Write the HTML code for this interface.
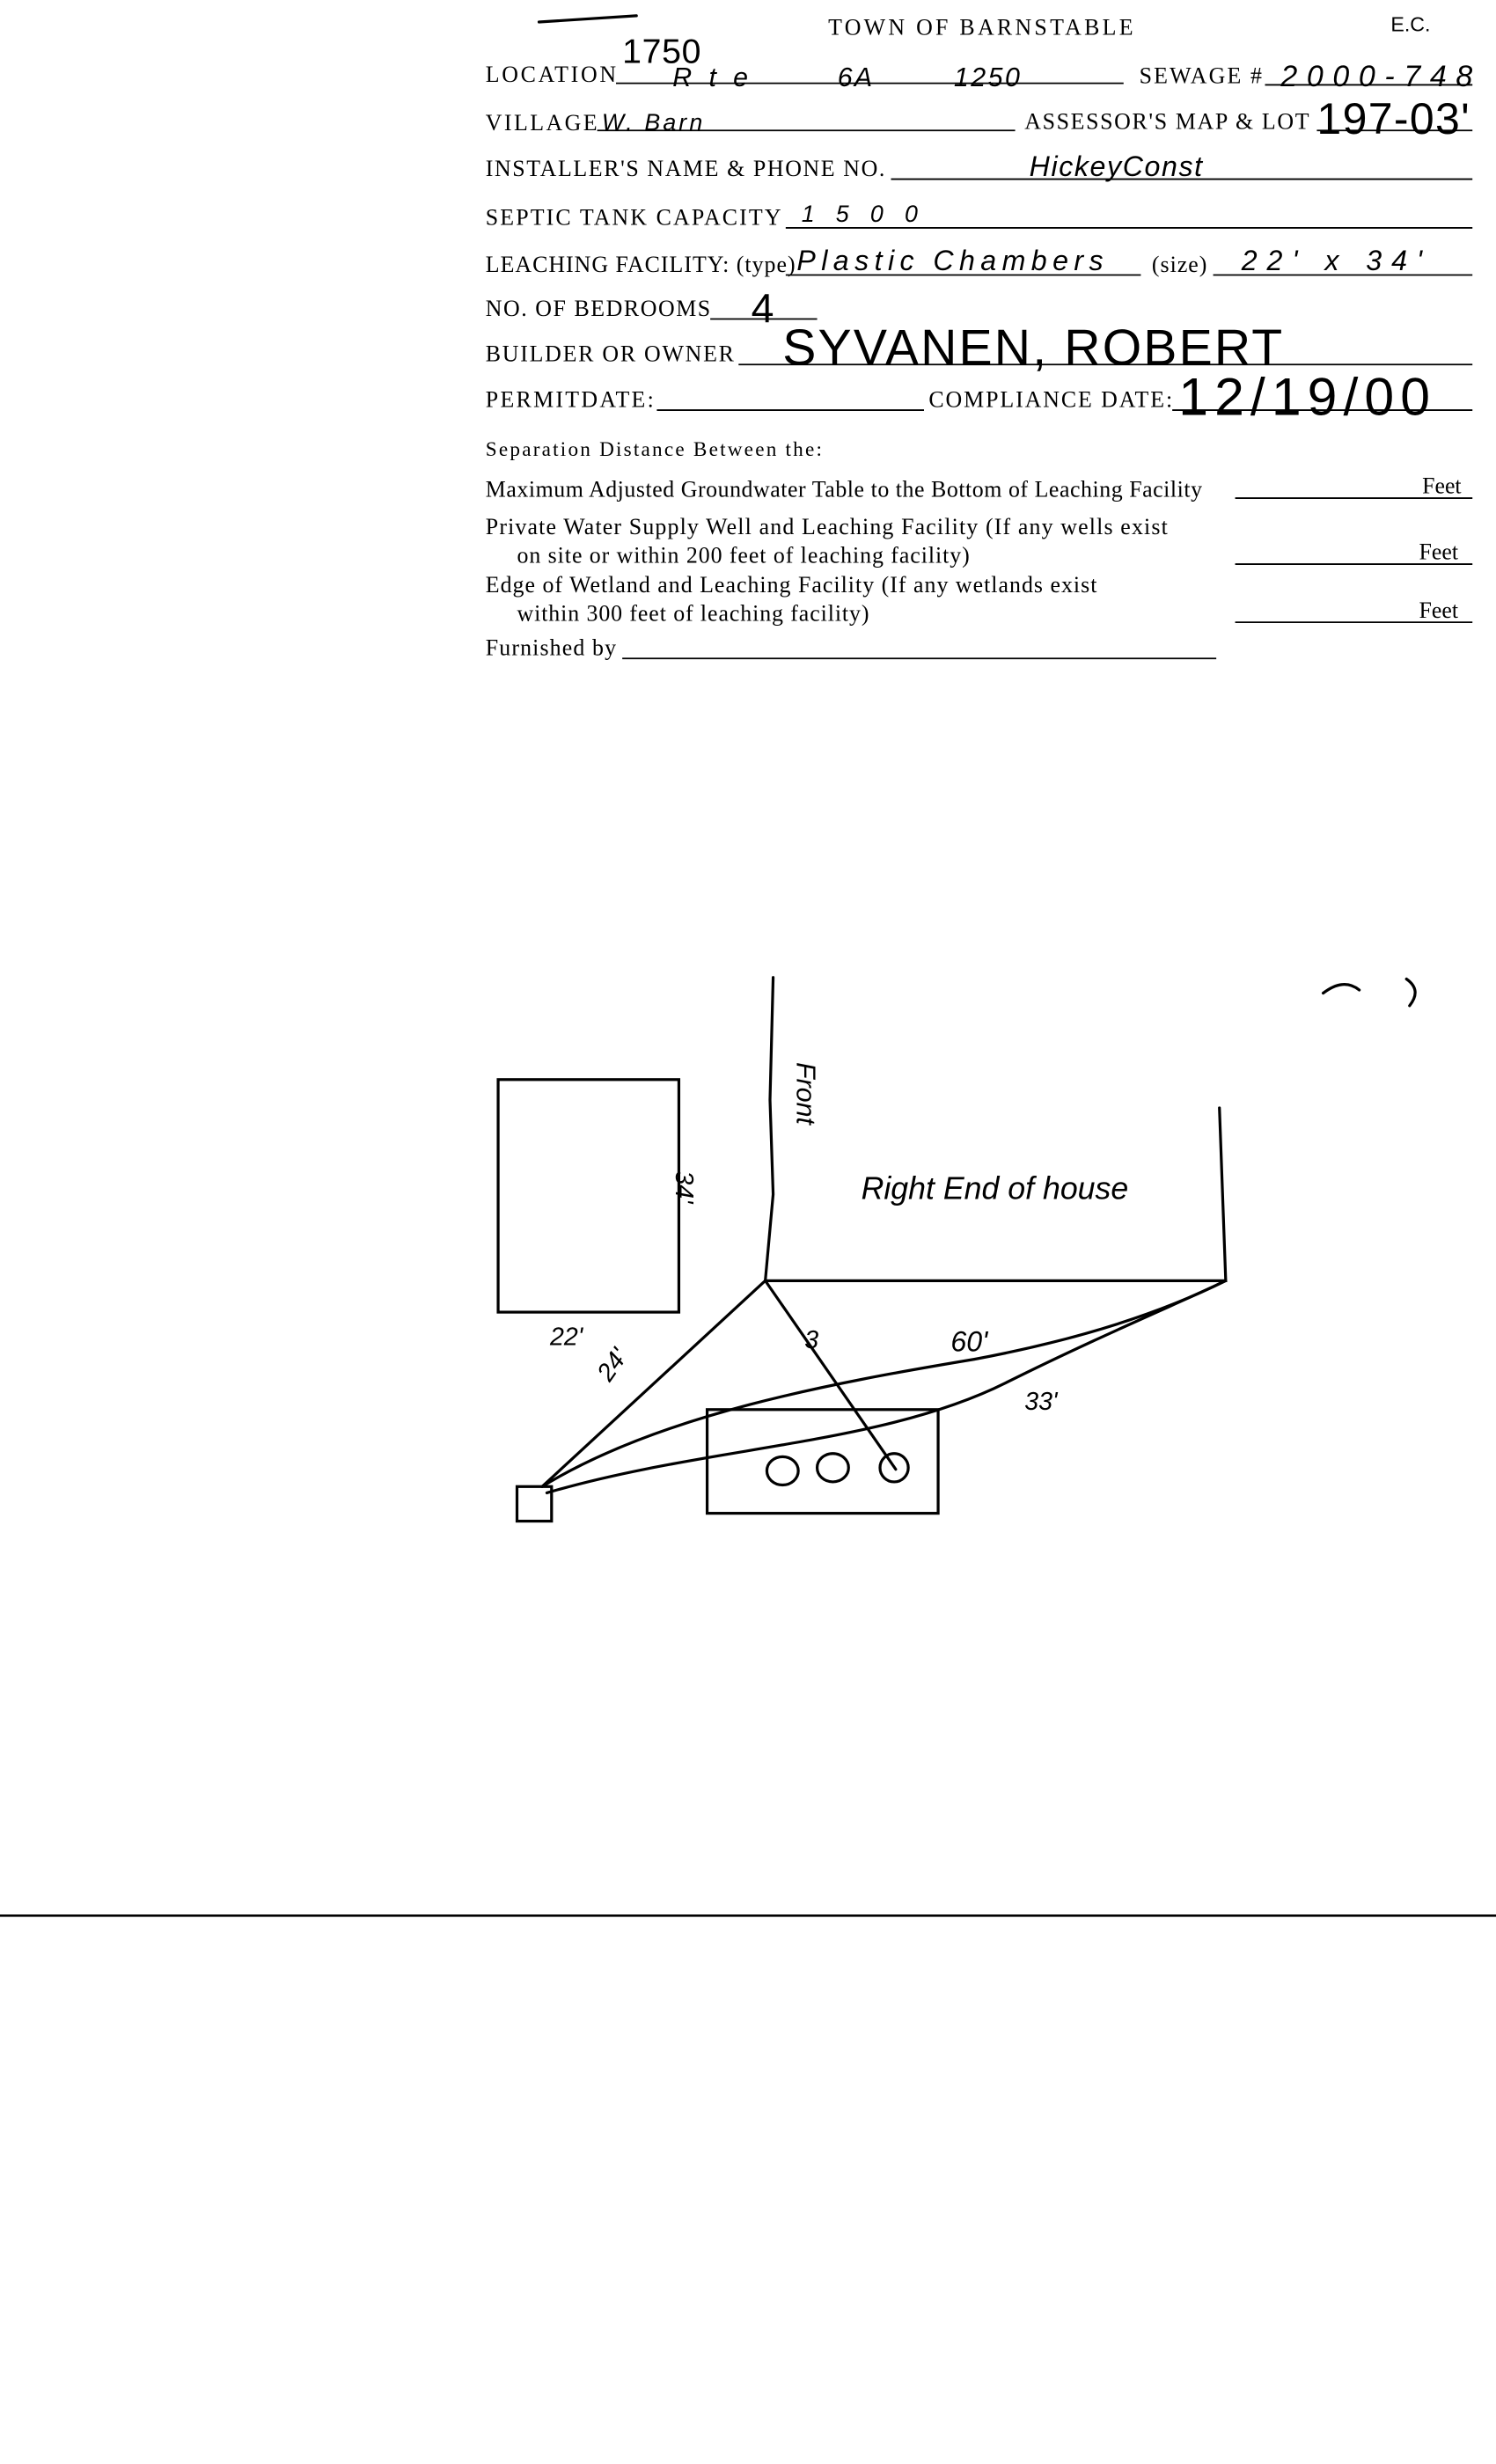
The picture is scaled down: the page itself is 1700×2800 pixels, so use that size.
<!DOCTYPE html>
<html><head><meta charset="utf-8"><style>
html,body{margin:0;padding:0;background:#fff;}
svg{display:block;}
.t{font-family:"Liberation Serif",serif;font-size:14.5px;fill:#000;}
.h{font-family:"Liberation Sans",sans-serif;font-style:italic;fill:#000;}
</style></head><body>
<svg width="1700" height="2800" viewBox="0 0 952 1568" preserveAspectRatio="none" xmlns="http://www.w3.org/2000/svg">
<rect width="952" height="1568" fill="#fff"/>
<g class="t" font-size="13.5" lengthAdjust="spacingAndGlyphs">
<text x="527" y="22" font-size="14.5" textLength="194">TOWN OF BARNSTABLE</text>
<text x="309" y="52" textLength="83">LOCATION</text>
<text x="725" y="53" textLength="78">SEWAGE #</text>
<text x="309" y="83" textLength="71">VILLAGE</text>
<text x="652" y="82" textLength="181">ASSESSOR'S MAP &amp; LOT</text>
<text x="309" y="112" textLength="254">INSTALLER'S NAME &amp; PHONE NO.</text>
<text x="309" y="143" textLength="188">SEPTIC TANK CAPACITY</text>
<text x="309" y="173" textLength="197">LEACHING FACILITY: (type)</text>
<text x="733" y="173" textLength="35">(size)</text>
<text x="309" y="201" textLength="143">NO. OF BEDROOMS</text>
<text x="309" y="230" textLength="158">BUILDER OR OWNER</text>
<text x="309" y="259" textLength="107">PERMITDATE:</text>
<text x="591" y="259" textLength="155">COMPLIANCE DATE:</text>
<text x="309" y="290" font-size="13" textLength="214">Separation Distance Between the:</text>
<text x="309" y="316" textLength="456">Maximum Adjusted Groundwater Table to the Bottom of Leaching Facility</text>
<text x="905" y="314">Feet</text>
<text x="309" y="340" textLength="434">Private Water Supply Well and Leaching Facility  (If any wells exist</text>
<text x="329" y="358" textLength="288">on site or within 200 feet of leaching facility)</text>
<text x="903" y="356">Feet</text>
<text x="309" y="377" textLength="389">Edge of Wetland and Leaching Facility (If any wetlands exist</text>
<text x="329" y="395" textLength="224">within 300 feet of leaching facility)</text>
<text x="903" y="393">Feet</text>
<text x="309" y="417" textLength="83">Furnished by</text>
</g>
<g stroke="#000" stroke-width="1" fill="none">
<line x1="392" y1="53" x2="715" y2="53"/>
<line x1="805" y1="54" x2="937" y2="54"/>
<line x1="380" y1="83" x2="646" y2="83"/>
<line x1="838" y1="83" x2="937" y2="83"/>
<line x1="567" y1="114" x2="937" y2="114"/>
<line x1="500" y1="145" x2="937" y2="145"/>
<line x1="500" y1="175" x2="726" y2="175"/>
<line x1="772" y1="175" x2="937" y2="175"/>
<line x1="452" y1="203" x2="520" y2="203"/>
<line x1="470" y1="232" x2="937" y2="232"/>
<line x1="418" y1="261" x2="588" y2="261"/>
<line x1="746" y1="261" x2="937" y2="261"/>
<line x1="786" y1="317" x2="937" y2="317"/>
<line x1="786" y1="359" x2="937" y2="359"/>
<line x1="786" y1="396" x2="937" y2="396"/>
<line x1="396" y1="419" x2="774" y2="419"/>
<line x1="0" y1="1219" x2="952" y2="1219" stroke-width="1.5"/>
</g>
<g class="h" lengthAdjust="spacingAndGlyphs">
<text x="396" y="40" font-size="22" font-style="normal" textLength="50">1750</text>
<text x="428" y="55" font-size="17" textLength="48">Rte</text>
<text x="533" y="55" font-size="17" textLength="22">6A</text>
<text x="607" y="55" font-size="17" textLength="42">1250</text>
<text x="815" y="55" font-size="19" textLength="122">2000-748</text>
<text x="383" y="83" font-size="15" textLength="64">W. Barn</text>
<text x="838" y="85" font-size="28" font-style="normal" textLength="97">197-03'</text>
<text x="655" y="112" font-size="18" textLength="110">HickeyConst</text>
<text x="510" y="141" font-size="15" textLength="74">1500</text>
<text x="507" y="172" font-size="18" textLength="195">Plastic Chambers</text>
<text x="790" y="172" font-size="18" textLength="115">22' x 34'</text>
<text x="478" y="205" font-size="26" font-style="normal">4</text>
<text x="498" y="232" font-size="32" font-style="normal" textLength="318">SYVANEN, ROBERT</text>
<text x="750" y="264" font-size="34" font-style="normal" textLength="160">12/19/00</text>
<text x="885" y="20" font-size="13" font-style="normal">E.C.</text>
</g>
<g stroke="#000" stroke-width="1.8" fill="none" stroke-linecap="round">
<path d="M343 14 L405 10"/>
<path d="M492 622 L490 700 L492 760 L487 815"/>
<path d="M487 815 L780 815 L776 705"/>
<rect x="317" y="687" width="115" height="148"/>
<path d="M487 815 L345 946"/>
<path d="M487 815 L570 935"/>
<path d="M345 946 C420 900 530 880 620 865 C700 850 750 830 780 815"/>
<path d="M348 950 C450 920 560 920 640 880 C700 850 760 825 780 815"/>
<rect x="450" y="897" width="147" height="66"/>
<rect x="329" y="946" width="22" height="22"/>
<ellipse cx="498" cy="936" rx="10" ry="9"/>
<ellipse cx="530" cy="934" rx="10" ry="9"/>
<ellipse cx="569" cy="934" rx="9" ry="9"/>
<path d="M842 632 Q855 622 865 630"/>
<path d="M895 623 Q905 630 897 640"/>
</g>
<g class="h">
<text x="548" y="763" font-size="20">Right End of house</text>
<text transform="translate(507 676) rotate(90)" font-size="17">Front</text>
<text transform="translate(430 745) rotate(90)" font-size="16">34'</text>
<text x="350" y="856" font-size="16">22'</text>
<text transform="translate(388 880) rotate(-55)" font-size="16">24'</text>
<text x="512" y="858" font-size="16">3</text>
<text x="605" y="860" font-size="18">60'</text>
<text x="652" y="897" font-size="16">33'</text>
</g>
</svg>
</body></html>
